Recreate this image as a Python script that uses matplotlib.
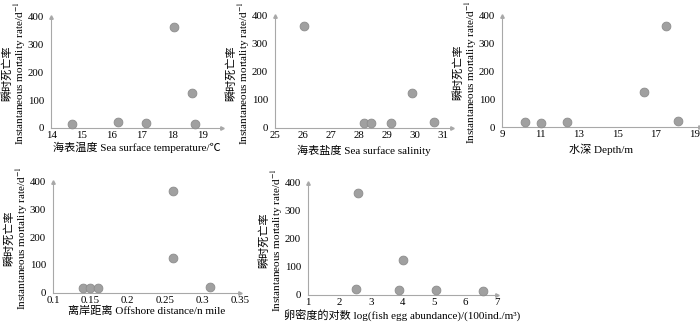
import matplotlib.pyplot as plt
import numpy as np

plt.rcParams['font.family'] = ['Liberation Serif', 'Noto Sans CJK SC']
plt.rcParams['font.size'] = 8
plt.rcParams['mathtext.fontset'] = 'stix'

# 瞬时死亡率与环境因子
mortality_sst = [15, 20, 17, 365, 125, 15]
sst = [14.7, 16.2, 17.15, 18.07, 18.65, 18.75]

mortality_sss = [365, 18, 17, 17, 125, 20]
sss = [26.05, 28.2, 28.45, 29.15, 29.92, 30.7]

mortality_depth = [17, 15, 17, 125, 365, 20]
depth = [10.2, 11.05, 12.37, 16.4, 17.53, 18.14]

mortality_dist = [18, 18, 17, 365, 125, 22]
dist = [0.14, 0.15, 0.16, 0.26, 0.26, 0.31]

mortality_egg = [20, 365, 17, 125, 17, 15]
egg = [2.53, 2.58, 3.9, 4.0, 5.05, 6.55]

ylabel_cn = '瞬时死亡率'
ylabel_en = 'Instantaneous mortality rate/d$^{-1}$'
axis_color = '#a8a8a8'

panels = [
    # x, y, xlabel, xlim, xticks, xticklabels, rect, labelpad
    (sst, mortality_sst, '海表温度 Sea surface temperature/℃', (14, 19.65),
     [14, 15, 16, 17, 18, 19], None, [0.073, 0.605, 0.244, 0.343], 0.5),
    (sss, mortality_sss, '海表盐度 Sea surface salinity', (25, 31.35),
     [25, 26, 27, 28, 29, 30, 31], None, [0.393, 0.605, 0.253, 0.346], 3),
    (depth, mortality_depth, '水深 Depth/m', (9, 19.3),
     [9, 11, 13, 15, 17, 19], None, [0.717, 0.608, 0.283, 0.343], 3),
    (dist, mortality_dist, '离岸距离 Offshore distance/n mile', (0.1, 0.344),
     [0.1, 0.15, 0.2, 0.25, 0.3, 0.35], ['0.1', '0.15', '0.2', '0.25', '0.3', '0.35'],
     [0.0757, 0.0966, 0.267, 0.343], 0.5),
    (egg, mortality_egg, '卵密度的对数 log(fish egg abundance)/(100ind./m³)', (1, 7),
     [1, 2, 3, 4, 5, 6, 7], None, [0.44, 0.0904, 0.27, 0.345], 2),
]

W, H = 700, 324
fig = plt.figure(figsize=(7, 3.24), dpi=100)

for x, y, xlab, xlim, xticks, xtl, rect, lpad in panels:
    ax = fig.add_axes(rect)
    ax.scatter(x, y, s=40, color='#a0a0a0', edgecolors='#8c8c8c', linewidths=0.6,
               zorder=3, clip_on=False)
    ax.set_xlim(*xlim)
    ax.set_ylim(0, 400)
    ax.set_xticks(xticks)
    if xtl is not None:
        ax.set_xticklabels(xtl)
    ax.set_yticks([0, 100, 200, 300, 400])
    for side in ['top', 'right']:
        ax.spines[side].set_visible(False)
    for side in ['left', 'bottom']:
        ax.spines[side].set_color(axis_color)
        ax.spines[side].set_linewidth(0.8)
    ax.tick_params(length=0, labelsize=7.8)
    ax.tick_params(axis='x', pad=2.5)
    ax.tick_params(axis='y', pad=5)
    # 坐标轴箭头
    ax.plot(0, 1, '^', ms=2.5, color=axis_color, transform=ax.transAxes, clip_on=False)
    ax.plot(1, 0, '>', ms=2.5, color=axis_color, transform=ax.transAxes, clip_on=False)
    ax.set_xlabel(xlab, fontsize=8, labelpad=lpad)
    # 两行纵轴标题：中文在外侧，英文在内侧
    axw = rect[2] * W
    ax.text(-31 / axw, 0.49, ylabel_en, rotation=90, ha='center', va='center',
            fontsize=8, transform=ax.transAxes)
    ax.text(-44 / axw, 0.49, ylabel_cn, rotation=90, ha='center', va='center',
            fontsize=8, transform=ax.transAxes)

fig.savefig('out.png', dpi=100)
